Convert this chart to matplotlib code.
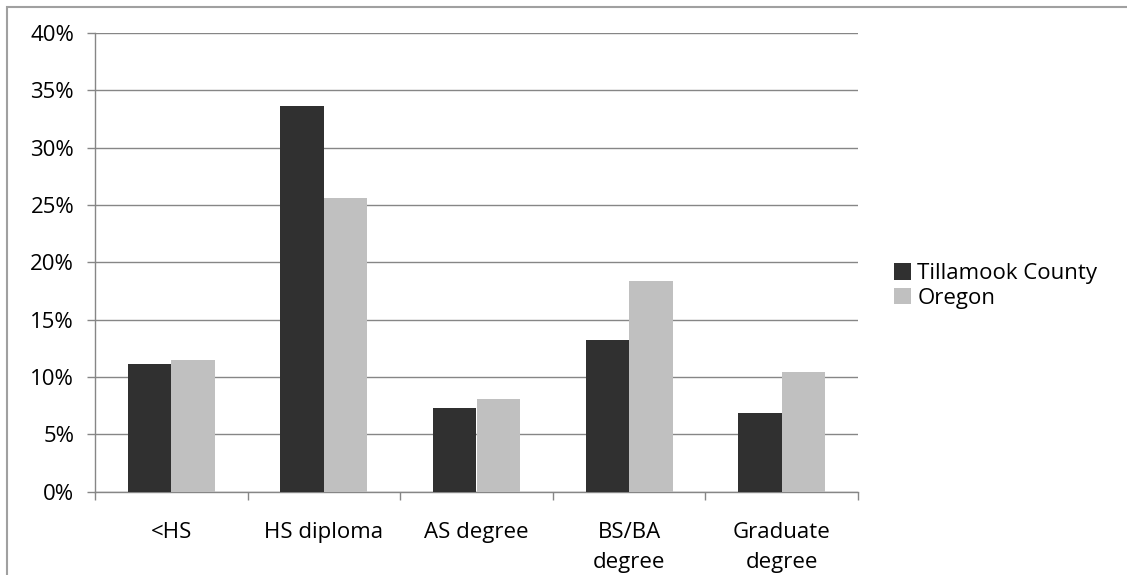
import numpy as np
import matplotlib.pyplot as plt
from matplotlib.patches import Rectangle

# Education attainment shares (%)
categories = ["<HS", "HS diploma", "AS degree", "BS/BA\ndegree", "Graduate\ndegree"]
tillamook = [11.1, 33.6, 7.3, 13.2, 6.9]
oregon = [11.5, 25.6, 8.1, 18.4, 10.4]
series_names = ["Tillamook County", "Oregon"]

plt.rcParams['font.family'] = ['Open Sans', 'DejaVu Sans']
fs = 16

W, H = 1127, 575
fig = plt.figure(figsize=(W / 100, H / 100), dpi=100)
ax = fig.add_axes([95 / W, 1 - 491.7 / H, (858 - 95) / W, (491.7 - 33) / H])

grid_col = '#868686'
x = np.arange(len(categories))
w = 0.285
ax.bar(x - w / 2, tillamook, w, color='#303030', label=series_names[0], zorder=3)
ax.bar(x + w / 2, oregon, w, color='#c0c0c0', label=series_names[1], zorder=3)

ax.set_xlim(-0.5, len(categories) - 0.5)
ax.set_ylim(0, 40)
ax.set_yticks(np.arange(0, 41, 5))
ax.set_yticklabels([f"{v}%" for v in range(0, 41, 5)], fontsize=fs)
ax.yaxis.grid(True, color=grid_col, linewidth=1, zorder=0)

ax.set_xticks(x)
ax.set_xticklabels(categories, fontsize=fs, linespacing=1.55)
ax.set_xticks(np.arange(-0.5, len(categories)), minor=True)
ax.tick_params(axis='x', which='major', length=0, pad=22)
ax.tick_params(axis='x', which='minor', length=6, color=grid_col, width=1)
ax.tick_params(axis='y', length=6, color=grid_col, width=1, pad=9)

for s in ['top', 'right']:
    ax.spines[s].set_visible(False)
for s in ['left', 'bottom']:
    ax.spines[s].set_color(grid_col)
    ax.spines[s].set_linewidth(1)

ax.legend(loc='center left', bbox_to_anchor=(894 / W, 1 - 286 / H),
          bbox_transform=fig.transFigure, frameon=False, fontsize=fs,
          handlelength=0.75, handleheight=0.75, handletextpad=0.3,
          labelspacing=0.15, borderaxespad=0, borderpad=0)

# outer chart border (top and left visible)
fig.patches.append(Rectangle((7 / W, -0.1), 1.2, 1 - 7 / H + 0.1,
                             transform=fig.transFigure, fill=False,
                             edgecolor='#a0a0a0', linewidth=1.5))

fig.savefig('out.png', dpi=100)
